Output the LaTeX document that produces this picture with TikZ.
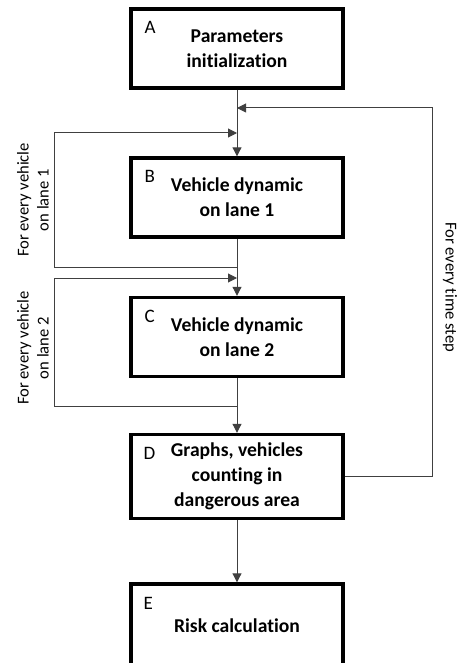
\documentclass[tikz,border=0pt]{standalone}
\usepackage{fontspec}
\setmainfont{Carlito}[Ligatures=NoCommon]
\usetikzlibrary{arrows.meta}
\usetikzlibrary{positioning}
\tikzset{block/.style = {draw, line width=1.7pt, minimum width=106pt,
                         minimum height=39.5pt, align=center,
                         font=\bfseries\fontsize{9.8}{12.5}\selectfont},
         tag/.style = {anchor=north west, inner sep=0pt,
                       font=\fontsize{9.5}{11}\selectfont},
         side/.style = {align=center, font=\fontsize{8.3}{10}\selectfont},
         wire/.style = {draw=black!75, line width=0.5pt},
         flow/.style = {wire, -{Triangle[length=4.5pt, width=4.5pt]}}}

\begin{document}
\begin{tikzpicture}[x=0.5pt, y=-0.5pt]
    \useasboundingbox (0, 0) rectangle (457, 663);
    \clip (0, 0) rectangle (457, 663);

    \node [block] (A) at (237, 48.5) {Parameters\\initialization};
    \node [block] (B) at (237, 197.5) {Vehicle dynamic\\on lane 1};
    \node [block] (C) at (237, 337) {Vehicle dynamic\\on lane 2};
    \node [block, minimum height=42pt] (D) at (237, 476.5) {Graphs, vehicles\\counting in\\dangerous area};
    \node [block, minimum height=42pt] (E) at (237, 626) {Risk calculation};

    \node [tag] (tA) at ([xshift=7.5pt, yshift=-7pt] A.north west) {A};
    \node [tag] (tB) at ([xshift=7.5pt, yshift=-7pt] B.north west) {B};
    \node [tag] (tC) at ([xshift=7.5pt, yshift=-7pt] C.north west) {C};
    \node [tag] (tD) at ([xshift=7pt, yshift=-7pt] D.north west) {D};
    \node [tag] (tE) at ([xshift=7pt, yshift=-7.5pt] E.north west) {E};

    % junctions on the main line
    \coordinate (top) at (237, 108);
    \coordinate (in1) at (237, 133);
    \coordinate (out1) at (237, 267);
    \coordinate (in2) at (237, 278);
    \coordinate (out2) at (237, 406);
    \coordinate (lf1) at (54, 133);
    \coordinate (lf2) at (54, 278);
    \coordinate (rt) at (432, 108);

    \draw [flow] (A.south) -- (B.north);
    \draw [flow] (B.south) -- (C.north);
    \draw [flow] (C.south) -- (D.north);
    \draw [flow] (D.south) -- (E.north);

    \draw [flow] (out1) -| (lf1) -- (in1);
    \draw [flow] (out2) -| (lf2) -- (in2);
    \draw [flow] (D.east) -| (rt) -- (top);

    \node [side, rotate=90] (l1) at (33, 200) {For every vehicle\\on lane 1};
    \node [side, rotate=90] (l2) at (33, 348) {For every vehicle\\on lane 2};
    \node [side, rotate=-90] (l3) at (450, 287) {For every time step};
\end{tikzpicture}
\end{document}
